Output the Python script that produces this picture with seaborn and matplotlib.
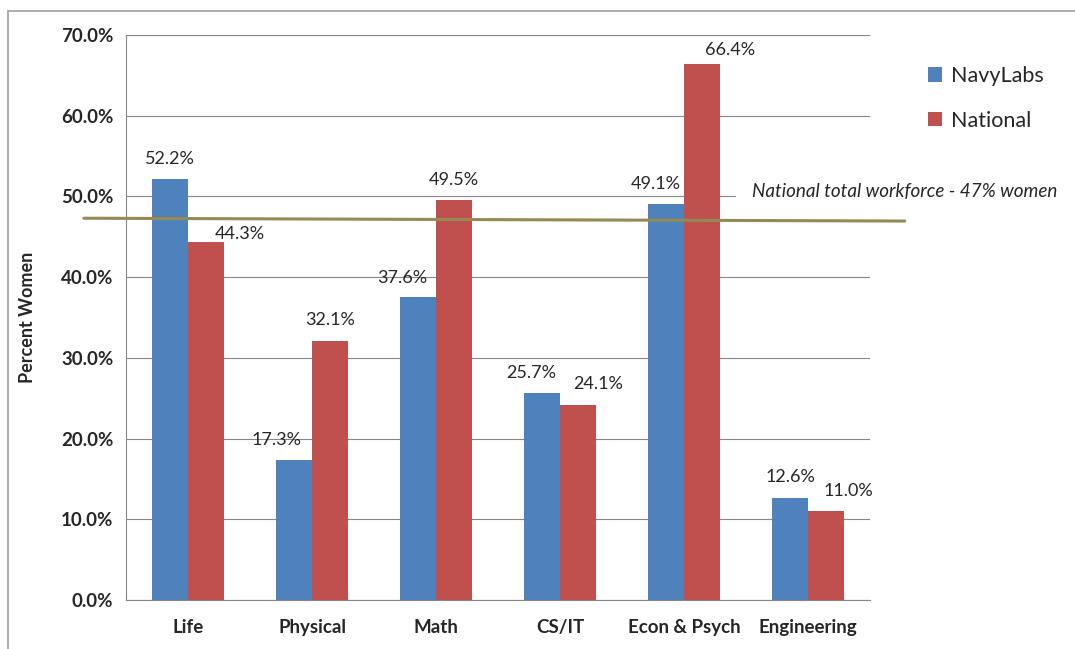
import matplotlib
matplotlib.use("Agg")
import matplotlib.pyplot as plt
import matplotlib.ticker as mticker
from matplotlib.patches import Rectangle
import pandas as pd
import seaborn as sns

# datos del grafico
categories = ["Life", "Physical", "Math", "CS/IT", "Econ & Psych", "Engineering"]
navylabs = [52.2, 17.3, 37.6, 25.7, 49.1, 12.6]
national = [44.3, 32.1, 49.5, 24.1, 66.4, 11.0]
series_names = ["NavyLabs", "National"]

# linea de la fuerza laboral nacional (ligeramente inclinada en el original)
workforce_x = [-0.84, 5.78]
workforce_y = [47.3, 46.95]
workforce_text = "National total workforce - 47% women"

# desplazamiento de las etiquetas en pixeles (dx, dy) respecto al tope de la barra
label_offsets = [
    [(0, 20), (-18, 20), (-16, 19), (-11, 20), (-10, 20), (0, 21)],
    [(34, 8), (0, 21), (0, 20), (20, 21), (28, 14), (23, 20)],
]

colors = ["#4F81BD", "#C0504D"]
grid_gray = "#868686"

df = pd.DataFrame({
    "category": categories * 2,
    "series": [series_names[0]] * len(categories) + [series_names[1]] * len(categories),
    "value": navylabs + national,
})

sns.set_style("white")
plt.rcParams["font.family"] = ["Lato", "DejaVu Sans"]

fig = plt.figure(figsize=(10.75, 6.49), dpi=100)
ax = fig.add_axes([126 / 1075, 49 / 649, 744 / 1075, 565 / 649])

sns.barplot(data=df, x="category", y="value", hue="series", palette=colors,
            saturation=1, width=0.573, linewidth=0, ax=ax, legend=True, zorder=3)

ax.set_ylim(0, 70)
ax.set_xlim(-0.5, len(categories) - 0.5)
ax.set_yticks(range(0, 71, 10))
ax.yaxis.set_major_formatter(mticker.StrMethodFormatter("{x:.1f}%"))
ax.grid(axis="y", color=grid_gray, linewidth=0.8, zorder=0)
ax.set_axisbelow(True)

for side in ["top", "right"]:
    ax.spines[side].set_visible(False)
for side in ["left", "bottom"]:
    ax.spines[side].set_color(grid_gray)
    ax.spines[side].set_linewidth(0.8)

ax.tick_params(axis="y", direction="out", length=5, color=grid_gray, width=0.8,
               labelsize=13.5, pad=4)
ax.tick_params(axis="x", which="major", length=0, labelsize=13.5, pad=14)
ax.set_xticks([i + 0.5 for i in range(-1, len(categories))], minor=True)
ax.tick_params(axis="x", which="minor", direction="out", length=6, color=grid_gray, width=0.8)
for lab in ax.get_xticklabels() + ax.get_yticklabels():
    lab.set_fontweight("bold")

ax.set_xlabel("")
ax.set_ylabel("Percent Women", fontsize=13, fontweight="bold", labelpad=18)

# etiquetas de datos
for container, offsets in zip(ax.containers, label_offsets):
    for bar, (dx, dy) in zip(container, offsets):
        xc = bar.get_x() + bar.get_width() / 2
        h = bar.get_height()
        ax.annotate(f"{h:.1f}%", (xc, h), xytext=(dx, dy), textcoords="offset pixels",
                    ha="center", va="center", fontsize=13, zorder=5)

# linea nacional
ax.plot(workforce_x, workforce_y, color="#948A54", linewidth=2.2, clip_on=False, zorder=4)
ax.text(4.548, 50.67, workforce_text, style="italic", fontsize=13.6, ha="left", va="center",
        bbox=dict(boxstyle="square,pad=0.85", fc="white", ec="none"), zorder=2)

# leyenda
ax.legend(loc="upper left", bbox_to_anchor=(928 / 1075, 1 - 66 / 649),
          bbox_transform=fig.transFigure, frameon=False, fontsize=15.5,
          handlelength=0.65, handleheight=0.65, handletextpad=0.4, labelspacing=1.15,
          borderaxespad=0, borderpad=0)

# borde exterior
fig.patches.append(Rectangle((8 / 1075, -0.02), 1.1, (649 - 11) / 649 + 0.02,
                             transform=fig.transFigure, fill=False, edgecolor="#A0A0A0",
                             linewidth=1.2, clip_on=False))

fig.savefig("out.png", dpi=100)
